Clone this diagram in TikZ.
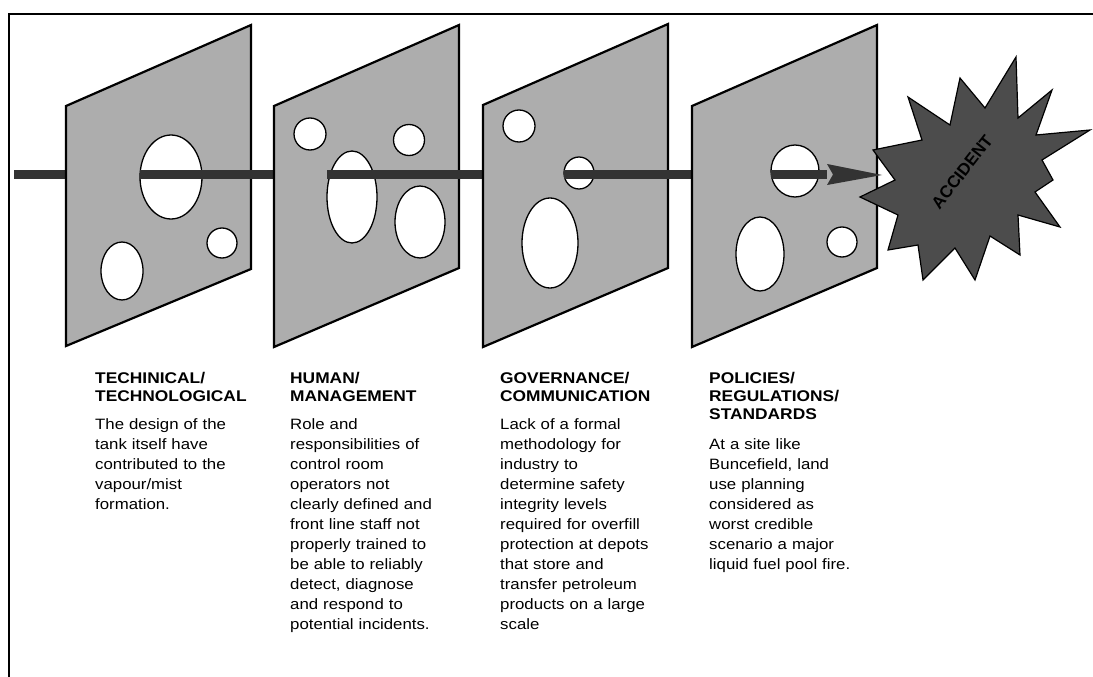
\documentclass[tikz,border=0pt]{standalone}
\usepackage{fontspec}
\setmainfont{Liberation Sans}
\newfontfamily\widefont[FakeStretch=1.12]{Liberation Sans}
\definecolor{panelgray}{gray}{0.68}
\definecolor{burstgray}{gray}{0.3}
\definecolor{rodgray}{gray}{0.2}
\begin{document}
\begin{tikzpicture}[x=1pt,y=-1pt,
  panel/.style={fill=panelgray, draw=black, line width=2.2pt, line join=miter},
  hole/.style={draw=black, line width=1.3pt, fill=white},
  rod/.style={line width=9pt, draw=rodgray},
  headtext/.style={font=\widefont\fontsize{15.5}{18}\selectfont\bfseries, anchor=base west, align=left, inner sep=0pt, text width=200pt},
  bodytext/.style={font=\widefont\fontsize{15}{20}\selectfont, anchor=base west, align=left, inner sep=0pt, text width=200pt}]
\fill[white] (0,0) rectangle (1093,677);
\path[use as bounding box] (0,0) rectangle (1093,677);
% frame
\draw[line width=1.6pt] (9,677) -- (9,14) -- (1093,14);
% rod entering
\coordinate (r0) at (14,174);
\coordinate (p1l) at (66,174);
\draw[rod] (r0) -- (p1l);
% panel 1
\draw[panel] (66,106) -- (251,25) -- (251,269) -- (66,346) -- cycle;
\draw[hole] (171,177) ellipse [x radius=31pt, y radius=42pt];
\draw[hole] (222,243) circle [radius=15pt];
\draw[hole] (122,271) ellipse [x radius=21pt, y radius=29pt];
\coordinate (h1) at (140,174);
\coordinate (p2l) at (274,174);
\draw[rod] (h1) -- (p2l);
% panel 2
\draw[panel] (274,106) -- (459,25) -- (459,268) -- (274,347) -- cycle;
\draw[hole] (310,134) circle [radius=16pt];
\draw[hole] (409,140) circle [radius=15.5pt];
\draw[hole] (352,197) ellipse [x radius=25pt, y radius=46pt];
\draw[hole] (420,222) ellipse [x radius=25pt, y radius=36pt];
\coordinate (h2) at (327,174);
\coordinate (p3l) at (483,174);
\draw[rod] (h2) -- (p3l);
% panel 3
\draw[panel] (483,105) -- (668,24) -- (668,268) -- (483,347) -- cycle;
\draw[hole] (519,126) circle [radius=16pt];
\draw[hole] (550,243) ellipse [x radius=28pt, y radius=45pt];
\draw[hole] (579,173) ellipse [x radius=15pt, y radius=16pt];
\coordinate (h3) at (564,174);
\coordinate (p4l) at (692,174);
\draw[rod] (h3) -- (p4l);
% panel 4
\draw[panel] (692,106) -- (877,25) -- (877,268) -- (692,347) -- cycle;
\draw[hole] (795,171) ellipse [x radius=24pt, y radius=26pt];
\draw[hole] (760,254) ellipse [x radius=24pt, y radius=37pt];
\draw[hole] (842,242) circle [radius=15pt];
% starburst
\draw[fill=burstgray, draw=black, line width=1.2pt, line join=miter]
  (873,150) -- (922,140) -- (908,97) -- (950,125) -- (960,78) -- (985,108)
  -- (1016,57) -- (1018,118) -- (1052,90) -- (1036,135) -- (1090,130)
  -- (1042,160) -- (1053,180) -- (1035,192) -- (1060,227) -- (1018,215)
  -- (1020,255) -- (990,236) -- (975,280) -- (955,248) -- (923,280)
  -- (918,245) -- (888,250) -- (898,215) -- (860,197) -- (895,180) -- cycle;
\node[rotate=52, font=\fontsize{17}{17}\selectfont\bfseries, text=black, inner sep=0pt] (acc) at (962,172) {ACCIDENT};
% final rod with head
\coordinate (h4) at (771,174);
\coordinate (ah) at (827,174);
\coordinate (tip) at (882,175);
\draw[rod] (h4) -- (ah);
\fill[rodgray] (827,164) -- (tip) -- (827,185) -- (833,174.5) -- cycle;
% texts
\node[headtext] (t1) at (95,383) {TECHINICAL/\\TECHNOLOGICAL};
\node[bodytext] (b1) at (95,429) {The design of the\\tank itself have\\contributed to the\\vapour/mist\\formation.};
\node[headtext] (t2) at (290,383) {HUMAN/\\MANAGEMENT};
\node[bodytext] (b2) at (290,429) {Role and\\responsibilities of\\control room\\operators not\\clearly defined and\\front line staff not\\properly trained to\\be able to reliably\\detect, diagnose\\and respond to\\potential incidents.};
\node[headtext] (t3) at (500,383) {GOVERNANCE/\\COMMUNICATION};
\node[bodytext] (b3) at (500,429) {Lack of a formal\\methodology for\\industry to\\determine safety\\integrity levels\\required for overfill\\protection at depots\\that store and\\transfer petroleum\\products on a large\\scale};
\node[headtext] (t4) at (709,383) {POLICIES/\\REGULATIONS/\\STANDARDS};
\node[bodytext] (b4) at (709,449) {At a site like\\Buncefield, land\\use planning\\considered as\\worst credible\\scenario a major\\liquid fuel pool fire.};
\end{tikzpicture}
\end{document}
